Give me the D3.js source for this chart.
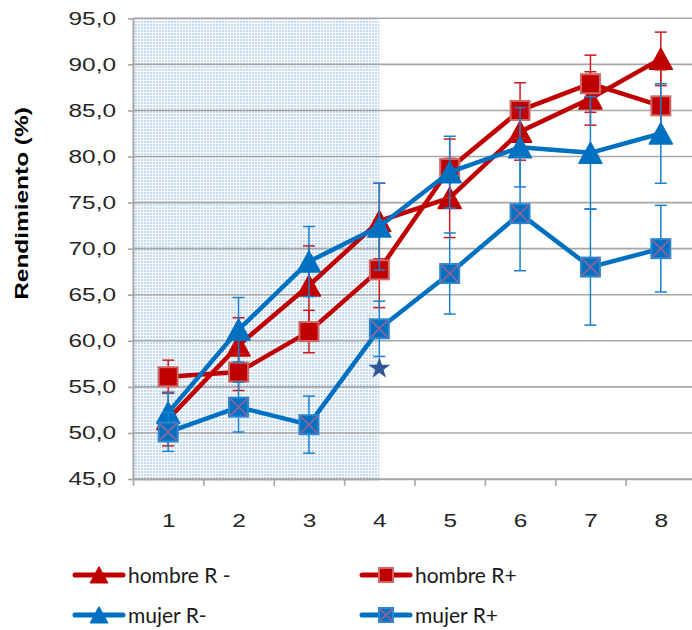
<!DOCTYPE html>
<html>
<head>
<meta charset="utf-8">
<script src="https://cdn.jsdelivr.net/npm/d3@7"></script>
<style>
  body { margin: 0; background: #fff; }
</style>
</head>
<body>
<div id="chart"></div>
<script>
// Data
const categories = [1, 2, 3, 4, 5, 6, 7, 8];
const yTicks = [45, 50, 55, 60, 65, 70, 75, 80, 85, 90, 95];

const hombreRmenos = [51.5, 59.5, 66.0, 73.0, 75.5, 82.7, 86.3, 90.6];
const hombreRmenosErr = [2.9, 3.0, 4.3, 4.1, 4.3, 3.1, 2.9, 2.9];
const hombreRmas = [56.1, 56.6, 61.0, 67.7, 78.7, 85.0, 87.9, 85.5];
const hombreRmasErr = [1.8, 2.0, 2.3, 4.1, 3.2, 3.0, 3.1, 3.9];
const mujerRmenos = [52.2, 61.2, 68.6, 72.4, 78.3, 81.0, 80.4, 82.5];
const mujerRmenosErr = [2.2, 3.5, 3.8, 4.7, 3.9, 4.3, 6.1, 5.4];
const mujerRmas = [50.1, 52.8, 50.9, 61.3, 67.3, 73.8, 68.0, 70.0];
const mujerRmasErr = [2.1, 2.7, 3.1, 3.0, 4.4, 6.2, 6.3, 4.7];

const shadedUntil = 4;           // shaded block runs from the left edge to category 4
const starPoint = { x: 4, y: 57.0 };

const series = [
  { name: 'hombre R -', values: hombreRmenos, err: hombreRmenosErr, color: '#c00000', barColor: '#cc1a1a', marker: 'triangle' },
  { name: 'hombre R+', values: hombreRmas, err: hombreRmasErr, color: '#c00000', barColor: '#cc1a1a', marker: 'square' },
  { name: 'mujer R-', values: mujerRmenos, err: mujerRmenosErr, color: '#0070c0', barColor: '#1a80cc', marker: 'triangle' },
  { name: 'mujer R+', values: mujerRmas, err: mujerRmasErr, color: '#0070c0', barColor: '#1a80cc', marker: 'cross' },
];

const width = 692;
const height = 630;
const plot = { left: 133, right: 696, top: 18.3, bottom: 479 };
const gridColor = '#a6a6a6';
const textStretch = 'scale(1.32,1)';

const svg = d3.select('#chart').append('svg')
  .attr('width', width)
  .attr('height', height)
  .style('display', 'block');

const x = d3.scaleLinear()
  .domain([0.5, categories.length + 0.5])
  .range([plot.left, plot.right]);

const y = d3.scaleLinear()
  .domain([45, 95])
  .range([plot.bottom, plot.top]);

const fmt = d3.formatLocale({ decimal: ',', thousands: '.', grouping: [3], currency: ['', ''] }).format('.1f');

// Dotted fill pattern for the shaded block
const defs = svg.append('defs');
const pattern = defs.append('pattern')
  .attr('id', 'dots')
  .attr('width', 3)
  .attr('height', 3)
  .attr('patternUnits', 'userSpaceOnUse');
pattern.append('rect').attr('width', 3).attr('height', 3).attr('fill', '#ffffff');
pattern.append('rect').attr('width', 2).attr('height', 2).attr('fill', '#c0d8f0');

svg.append('rect')
  .attr('x', x(0.5))
  .attr('y', y(95))
  .attr('width', x(shadedUntil) - x(0.5))
  .attr('height', y(45) - y(95) + 2)
  .attr('fill', 'url(#dots)');

// Gridlines
svg.append('g')
  .selectAll('line')
  .data(yTicks)
  .join('line')
  .attr('x1', plot.left)
  .attr('x2', plot.right)
  .attr('y1', d => y(d))
  .attr('y2', d => y(d))
  .attr('stroke', gridColor)
  .attr('stroke-width', 1.6);

// Y axis
svg.append('g')
  .attr('transform', `translate(${plot.left},0)`)
  .call(d3.axisLeft(y).tickValues(yTicks).tickSize(5).tickSizeOuter(0).tickFormat(fmt))
  .call(g => g.select('.domain').attr('stroke', gridColor).attr('stroke-width', 2))
  .call(g => g.selectAll('.tick line').attr('stroke', gridColor).attr('stroke-width', 1.6))
  .call(g => g.selectAll('.tick text')
    .attr('x', 0)
    .attr('transform', `translate(-17,0) ${textStretch}`)
    .attr('fill', '#262626')
    .style('font', '18.5px "Liberation Sans", Arial, sans-serif'));

// X axis: ticks on category boundaries, labels at centres
const boundaries = d3.range(0.5, categories.length + 1, 1);

svg.append('g')
  .attr('transform', `translate(0,${plot.bottom})`)
  .call(d3.axisBottom(x).tickValues(boundaries).tickSize(7).tickSizeOuter(0).tickFormat(''))
  .call(g => g.select('.domain').attr('stroke', gridColor).attr('stroke-width', 1.6))
  .call(g => g.selectAll('.tick line').attr('stroke', gridColor).attr('stroke-width', 1.6));

svg.append('g')
  .attr('transform', `translate(0,${plot.bottom})`)
  .call(d3.axisBottom(x).tickValues(categories).tickSize(0).tickFormat(d3.format('d')))
  .call(g => g.select('.domain').remove())
  .call(g => g.selectAll('.tick text')
    .attr('y', 48)
    .attr('dy', 0)
    .attr('transform', textStretch)
    .attr('fill', '#262626')
    .style('font', '18.5px "Liberation Sans", Arial, sans-serif'));

// Y axis title
svg.append('text')
  .attr('transform', `translate(28,203.5) rotate(-90) ${textStretch}`)
  .attr('text-anchor', 'middle')
  .attr('fill', '#000')
  .style('font', 'bold 18.5px "Liberation Sans", Arial, sans-serif')
  .text('Rendimiento (%)');

// Marker helpers
function triangle(w, h) {
  return `M0,${-h / 2}L${w / 2},${h / 2}L${-w / 2},${h / 2}Z`;
}

function drawMarker(g, type, color, scale) {
  if (type === 'triangle') {
    g.append('path')
      .attr('d', triangle(23 * scale, 21 * scale))
      .attr('fill', color)
      .attr('stroke', color)
      .attr('stroke-width', 1.5)
      .attr('stroke-linejoin', 'round');
  } else if (type === 'square') {
    const s = 19 * scale;
    g.append('rect')
      .attr('x', -s / 2).attr('y', -s / 2)
      .attr('width', s).attr('height', s)
      .attr('fill', color)
      .attr('stroke', '#cf6767')
      .attr('stroke-width', 2);
  } else {
    const s = 19 * scale;
    g.append('rect')
      .attr('x', -s / 2).attr('y', -s / 2)
      .attr('width', s).attr('height', s)
      .attr('fill', color)
      .attr('stroke', '#2f86d0')
      .attr('stroke-width', 2);
    const c = s / 2 - 1;
    g.append('path')
      .attr('d', `M${-c},${-c}L${c},${c}M${c},${-c}L${-c},${c}`)
      .attr('stroke', '#8064a2')
      .attr('stroke-width', 2);
  }
}

const line = d3.line()
  .x((d, i) => x(categories[i]))
  .y(d => y(d));

// Series: line, error bars, markers
series.forEach(s => {
  const g = svg.append('g');

  g.append('path')
    .datum(s.values)
    .attr('d', line)
    .attr('fill', 'none')
    .attr('stroke', s.color)
    .attr('stroke-width', 4.5)
    .attr('stroke-linejoin', 'round')
    .attr('stroke-linecap', 'round');

  const bars = g.append('g')
    .attr('stroke', s.barColor)
    .attr('stroke-width', 1.5)
    .selectAll('g')
    .data(s.values)
    .join('g')
    .attr('transform', (d, i) => `translate(${x(categories[i])},0)`);

  bars.append('line')
    .attr('y1', (d, i) => y(d - s.err[i]))
    .attr('y2', (d, i) => y(d + s.err[i]));
  bars.append('line')
    .attr('x1', -6).attr('x2', 6)
    .attr('y1', (d, i) => y(d + s.err[i]))
    .attr('y2', (d, i) => y(d + s.err[i]));
  bars.append('line')
    .attr('x1', -6).attr('x2', 6)
    .attr('y1', (d, i) => y(d - s.err[i]))
    .attr('y2', (d, i) => y(d - s.err[i]));

  g.append('g')
    .selectAll('g')
    .data(s.values)
    .join('g')
    .attr('transform', (d, i) => `translate(${x(categories[i])},${y(d)})`)
    .each(function () { drawMarker(d3.select(this), s.marker, s.color, 1); });
});

// Star annotation
svg.append('path')
  .attr('d', d3.symbol(d3.symbolStar, 150)())
  .attr('transform', `translate(${x(starPoint.x)},${y(starPoint.y)})`)
  .attr('fill', '#2f5597');

// Legend, two columns
const legend = svg.append('g')
  .selectAll('g')
  .data(series)
  .join('g')
  .attr('transform', (d, i) => `translate(${75 + (i % 2) * 287},${575 + Math.floor(i / 2) * 40})`);

legend.append('line')
  .attr('x1', 0).attr('x2', 48)
  .attr('stroke', d => d.color)
  .attr('stroke-width', 5)
  .attr('stroke-linecap', 'round');

legend.append('g')
  .attr('transform', 'translate(24,0)')
  .each(function (d) { drawMarker(d3.select(this), d.marker, d.color, 0.74); });

legend.append('text')
  .attr('x', 53)
  .attr('y', 8)
  .attr('fill', '#1a1a1a')
  .style('font', '21px Lato, "Open Sans", sans-serif')
  .text(d => d.name);
</script>
</body>
</html>
